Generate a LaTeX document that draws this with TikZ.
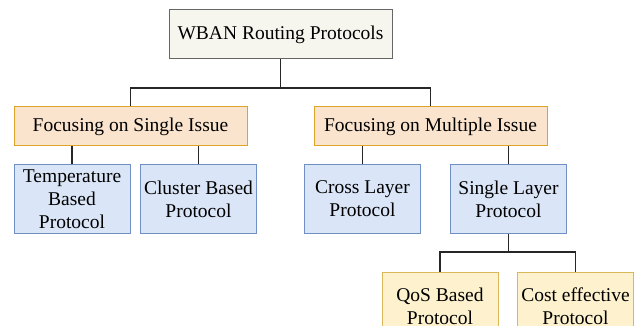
\documentclass[tikz,border=0pt]{standalone}
\usepackage{fontspec}
\setmainfont{Liberation Serif}
\newfontfamily\tnrfont{Liberation Serif}
\definecolor{rootfill}{RGB}{246,245,238}
\definecolor{rootdraw}{RGB}{102,102,102}
\definecolor{orfill}{RGB}{250,228,206}
\definecolor{ordraw}{RGB}{222,164,40}
\definecolor{blfill}{RGB}{218,230,248}
\definecolor{bldraw}{RGB}{112,144,196}
\definecolor{yefill}{RGB}{253,242,205}
\definecolor{yedraw}{RGB}{218,184,90}
\begin{document}
\begin{tikzpicture}[x=1pt,y=-1pt,
  box/.style={draw, line width=1pt, align=center, inner sep=0pt, font=\tnrfont\fontsize{19.5}{23}\selectfont},
  rootbox/.style={box, fill=rootfill, draw=rootdraw, minimum width=223pt, minimum height=49pt},
  orbox/.style={box, fill=orfill, draw=ordraw, minimum width=233pt, minimum height=39pt},
  blbox/.style={box, fill=blfill, draw=bldraw, minimum width=116pt, minimum height=68pt},
  yebox/.style={box, fill=yefill, draw=yedraw, minimum width=116pt, minimum height=68pt},
  conn/.style={draw=black!85, line width=1.1pt}]
\useasboundingbox (0,0) rectangle (640,326);
\fill[white] (0,0) rectangle (640,326);
\node[rootbox] (root) at (280.5,34.5) {WBAN Routing Protocols};
\node[orbox] (oL) at (130.5,126.5) {Focusing on Single Issue};
\node[orbox] (oR) at (430.5,126.5) {Focusing on Multiple Issue};
\node[blbox] (temp) at (72,199) {Temperature\\Based\\Protocol};
\node[blbox] (clus) at (198.5,199) {Cluster Based\\Protocol};
\node[blbox] (cross) at (362.5,199) {Cross Layer\\Protocol};
\node[blbox] (single) at (508.5,199) {Single Layer\\Protocol};
\node[yebox] (qos) at (440,306) {QoS Based\\Protocol};
\node[yebox] (cost) at (575.5,306) {Cost effective\\Protocol};
\coordinate (b1) at (280.5,88);
\coordinate (b2) at (508.5,252);
\draw[conn] (root.south) -- (b1);
\draw[conn] (oL.north) |- (b1) -| (oR.north);
\draw[conn] (temp.north) -- (temp.north |- oL.south);
\draw[conn] (clus.north) -- (clus.north |- oL.south);
\draw[conn] (cross.north) -- (cross.north |- oR.south);
\draw[conn] (single.north) -- (single.north |- oR.south);
\draw[conn] (single.south) -- (b2);
\draw[conn] (qos.north) |- (b2) -| (cost.north);
\end{tikzpicture}
\end{document}
